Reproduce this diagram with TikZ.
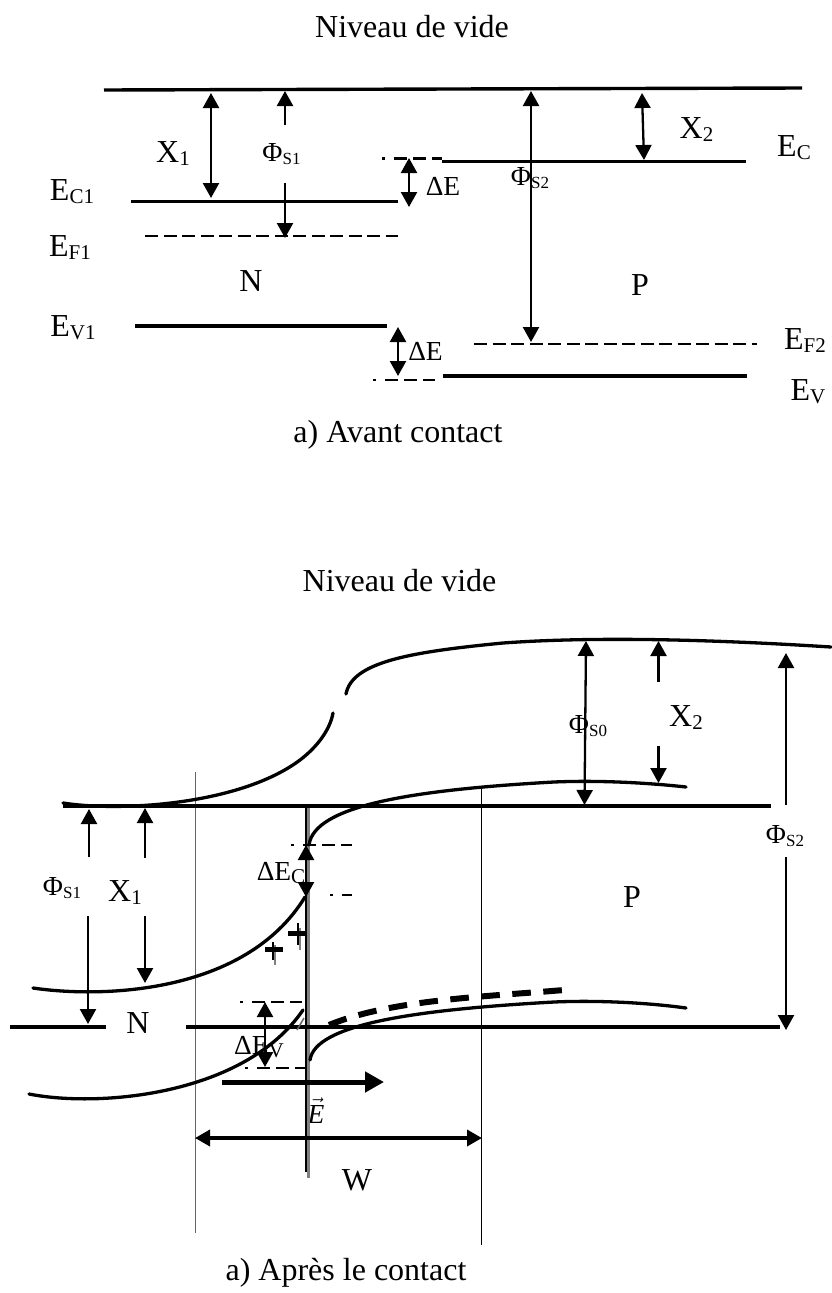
\documentclass[tikz,border=0pt]{standalone}
\usepackage{fontspec}
\setmainfont{Liberation Serif}
\usetikzlibrary{arrows.meta}
\newcommand{\lowsub}[1]{{\fontsize{21}{21}\selectfont\raisebox{-3.5pt}{#1}}}
\newcommand{\tinysub}[1]{{\fontsize{17}{17}\selectfont\raisebox{-3.5pt}{#1}}}
\begin{document}
\begin{tikzpicture}[
        x=1pt, y=-1pt,
        >={Triangle[length=15pt,width=16pt]},
        title/.style={font=\fontsize{32}{34}\selectfont, inner sep=0pt, anchor=base},
        lab/.style={font=\fontsize{32}{34}\selectfont, inner sep=0pt, anchor=base},
        small/.style={font=\fontsize{27.5}{30}\selectfont, inner sep=0pt, anchor=base},
        level/.style={line width=3.4pt},
        fermi/.style={line width=2.3pt, dash pattern=on 13pt off 5.5pt},
        shortdash/.style={line width=2.1pt, dash pattern=on 3pt off 9pt on 13pt off 6pt on 13pt off 6pt on 13pt off 6pt},
        arrow/.style={line width=2.3pt},
        band/.style={line width=3.3pt, line cap=round},
        limit/.style={line width=0.8pt}
    ]
    \useasboundingbox (0,0) rectangle (831,1293);

    \node[title] (vide1) at (412,37) {Niveau de vide};
    \node[lab] (x1a) at (173,162) {X\lowsub{1}};
    \node[small] (phi1a) at (281.5,161) {Φ\tinysub{S1}};
    \node[lab] (ec1) at (72,200) {E\lowsub{C1}};
    \node[lab] (ef1) at (70,256) {E\lowsub{F1}};
    \node[lab] (ev1) at (73,336) {E\lowsub{V1}};
    \node[lab] (na) at (251,291.5) {N};
    \node[small] (de1) at (443,195) {ΔE};
    \node[small] (de2) at (425.5,360) {ΔE};
    \node[small] (phi2a) at (530,185) {Φ\tinysub{S2}};
    \node[lab] (x2a) at (696.5,138) {X\lowsub{2}};
    \node[lab] (ec) at (794,156) {E\lowsub{C}};
    \node[lab] (pa) at (640,295) {P};
    \node[lab] (ef2) at (805,349) {E\lowsub{F2}};
    \node[lab] (ev) at (808,400) {E\lowsub{V}};
    \node[title] (avant) at (398,442) {a) Avant contact};

    \draw[level] (104,90) -- (802,88);
    \draw[level] (131,201.5) -- (398,201.5);
    \draw[fermi] (145,236) -- (398,236);
    \draw[shortdash] (382,158.5) -- (442,158.5);
    \draw[level] (442,161.5) -- (746,161.5);
    \draw[level] (135,326) -- (387,326);
    \draw[shortdash] (373,380) -- (435,380);
    \draw[level] (443,376) -- (747,376);
    \draw[fermi] (474,344) -- (757,344);

    \draw[arrow, <->] (211,93) -- (211,198);
    \draw[arrow, ->] (285,125) -- (285,91);
    \draw[arrow, ->] (285,183) -- (285,238);
    \draw[arrow, <->] (409,158) -- (409,207);
    \draw[arrow, <->] (398,327) -- (398,376);
    \draw[arrow, <->] (531,91) -- (531,342);
    \draw[arrow, <->] (642,93) -- (644,160);

    \node[title] (vide2) at (399.5,591) {Niveau de vide};
    \node[small] (phi1b) at (62,895) {Φ\tinysub{S1}};
    \node[lab] (x1b) at (125,901) {X\lowsub{1}};
    \node[small] (dec) at (281,880) {ΔE\lowsub{C}};
    \node[lab] (nb) at (138,1033) {N};
    \node[small] (dev) at (259,1054) {ΔE\lowsub{V}};
    \node[small] (phi0) at (588,733) {Φ\tinysub{S0}};
    \node[lab] (x2b) at (686,726) {X\lowsub{2}};
    \node[small] (phi2b) at (785,843) {Φ\tinysub{S2}};
    \node[lab] (pb) at (632,907) {P};
    \node[small] (field) at (316,1123) {$\vec{\mbox{\itshape E}}$};
    \node[lab] (wb) at (357,1190.5) {W};
    \node[title] (apres) at (346,1280) {a) Après le contact};

    \draw[limit, black!60] (195,772) -- (195,1233);
    \draw[limit] (481,787) -- (481,1245);
    \draw[line width=3pt, black!50] (308.5,808) -- (308.5,1178);
    \draw[line width=2.8pt] (306,806) -- (306,1172);

    \draw[level] (63,806) -- (771,806);
    \draw[level] (10,1027) -- (106,1027);
    \draw[level] (186,1027) -- (780,1027);

    \draw[band] (63,803) .. controls (120,812) and (240,805) .. (300,760)
        .. controls (317,747) and (330,730) .. (333,713);
    \draw[band] (346,694) .. controls (352,662) and (410,652) .. (503,643)
        .. controls (600,636) and (720,640) .. (831,647);
    \draw[band] (309,845) .. controls (314,806) and (410,790) .. (554,782)
        .. controls (600,780) and (650,783) .. (686,787);
    \draw[band] (310,1060) .. controls (315,1025) and (410,1010) .. (554,1002)
        .. controls (600,1000) and (650,1003) .. (686,1008);
    \draw[band] (33,988) .. controls (100,998) and (245,995) .. (305,897);
    \draw[band] (29,1094) .. controls (100,1108) and (245,1095) .. (303,1010);
    \draw[line width=1.5pt, black!60] (304,1018) -- (297,1030);
    \draw[line width=6pt, dash pattern=on 18.6pt off 12.5pt] (329,1025) .. controls (390,1000) and (480,997) .. (564,990);

    \draw[shortdash] (291,845) -- (352,845);
    \draw[line width=2.1pt, dash pattern=on 3pt off 9pt on 13pt off 6pt] (330,895) -- (352,895);
    \draw[shortdash] (240,1002) -- (302,1002);
    \draw[shortdash] (245,1068) -- (305,1068);

    \draw[arrow, ->] (89,857) -- (89,809);
    \draw[arrow, ->] (88,916) -- (88,1024);
    \draw[arrow, ->] (145,858) -- (145,808);
    \draw[arrow, ->] (145,916) -- (145,983);
    \draw[arrow, <->] (306,845) -- (306,897);
    \draw[arrow, <->] (265,1002) -- (265,1067);
    \draw[arrow, <->] (586,641) -- (584.5,805);
    \draw[arrow, ->] (658.5,682) -- (658.5,641);
    \draw[arrow, ->] (658.5,746) -- (658.5,783);
    \draw[arrow, ->] (786,805) -- (786,653);
    \draw[arrow, ->] (786,857) -- (786,1030);
    \draw[line width=5pt, -{Triangle[length=19pt,width=20pt]}] (222,1082) -- (384,1082);
    \draw[line width=3.5pt, <->] (195,1138) -- (482,1138);

    \draw[line width=1.5pt, black!50] (275,945) -- (275,965);
    \draw[line width=1.5pt] (273,942) -- (273,960);
    \draw[line width=5pt] (265,949) -- (283,949);
    \draw[line width=1.5pt, black!50] (300,928) -- (300,950);
    \draw[line width=1.5pt] (298,923) -- (298,945);
    \draw[line width=5pt] (288,933) -- (305,933);
\end{tikzpicture}
\end{document}
